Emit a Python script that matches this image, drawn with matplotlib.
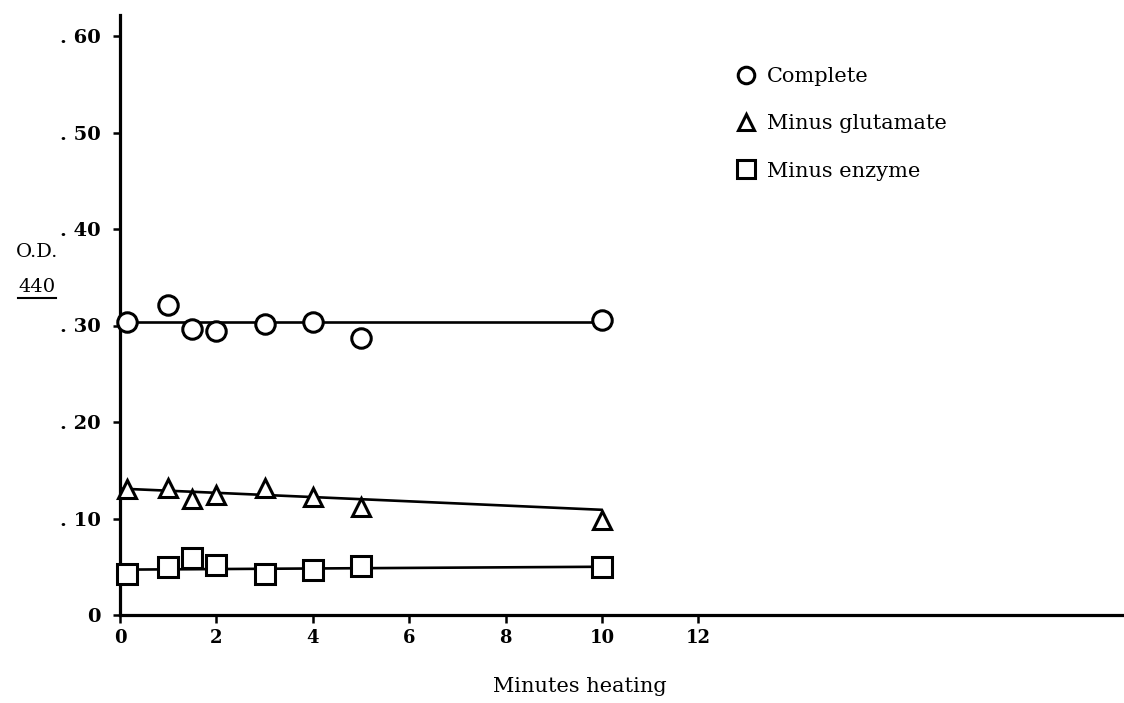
import matplotlib
matplotlib.use("Agg")
import matplotlib.pyplot as plt
from matplotlib.lines import Line2D

# ---- data ----
minutes = [0.15, 1, 1.5, 2, 3, 4, 5, 10]
complete = [0.304, 0.321, 0.296, 0.294, 0.302, 0.304, 0.287, 0.306]
minus_glutamate = [0.131, 0.132, 0.120, 0.124, 0.132, 0.122, 0.112, 0.098]
minus_enzyme = [0.043, 0.050, 0.059, 0.052, 0.043, 0.047, 0.051, 0.050]

fit_x = [0, 10]
complete_fit = [0.304, 0.304]
glutamate_fit = [0.131, 0.109]
enzyme_fit = [0.047, 0.050]

x_ticks = [0, 2, 4, 6, 8, 10, 12]
x_tick_labels = ["0", "2", "4", "6", "8", "10", "12"]
y_ticks = [0, 0.10, 0.20, 0.30, 0.40, 0.50, 0.60]
y_tick_labels = ["0", ". 10", ". 20", ". 30", ". 40", ". 50", ". 60"]
series_labels = ["Complete", "Minus glutamate", "Minus enzyme"]

W, H = 1124, 703
fig = plt.figure(figsize=(W / 100, H / 100), dpi=100)
ax = fig.add_axes([120 / W, 88 / H, (W - 120) / W, 600 / H])

serif = ["DejaVu Serif"]

# fitted lines
for fy in (complete_fit, glutamate_fit, enzyme_fit):
    ax.plot(fit_x, fy, color="black", lw=1.9, zorder=2, solid_capstyle="butt")

h1, = ax.plot(minutes, complete, ls="none", marker="o", ms=14, mfc="white",
              mec="black", mew=2.2, zorder=3, clip_on=False)
h2, = ax.plot(minutes, minus_glutamate, ls="none", marker="^", ms=13, mfc="white",
              mec="black", mew=2.2, zorder=3, clip_on=False)
h3, = ax.plot(minutes, minus_enzyme, ls="none", marker="s", ms=15, mfc="white",
              mec="black", mew=2.2, zorder=3, clip_on=False)

ax.set_xlim(0, 1004 / 48.2)
ax.set_ylim(0, 600 / 965)

for s in ("top", "right"):
    ax.spines[s].set_visible(False)
for s in ("left", "bottom"):
    ax.spines[s].set_linewidth(2.3)

ax.set_xticks(x_ticks)
ax.set_xticklabels(x_tick_labels, fontfamily=serif, fontsize=13, fontweight="bold")
ax.set_yticks(y_ticks)
ax.set_yticklabels(y_tick_labels, fontfamily=serif, fontsize=14, fontweight="bold")
ax.tick_params(axis="x", direction="out", length=6, width=1.8, pad=4)
ax.tick_params(axis="y", direction="out", length=5, width=1.8, pad=9)

ax.set_xlabel("Minutes heating", fontfamily=serif, fontsize=15)
ax.xaxis.set_label_coords((580 - 120) / 1004, (615 - 677) / 600)

# y label: O.D. over underlined 440
fig.text(37 / W, 1 - 252 / H, "O.D.", ha="center", va="center",
         fontfamily=serif, fontsize=14)
fig.text(37 / W, 1 - 287 / H, "440", ha="center", va="center",
         fontfamily=serif, fontsize=14)
fig.add_artist(Line2D([18 / W, 56 / W], [1 - 298 / H, 1 - 298 / H],
                      color="black", lw=1.5))

leg = ax.legend([h1, h2, h3], series_labels, loc="upper left",
                bbox_to_anchor=((727 - 120) / 1004, (615 - 59) / 600),
                frameon=False, handlelength=1.0, handletextpad=0.5,
                labelspacing=1.35, borderaxespad=0,
                prop={"family": serif, "size": 15}, numpoints=1,
                markerscale=0.85)

fig.savefig("out.png", dpi=100, facecolor="white")
